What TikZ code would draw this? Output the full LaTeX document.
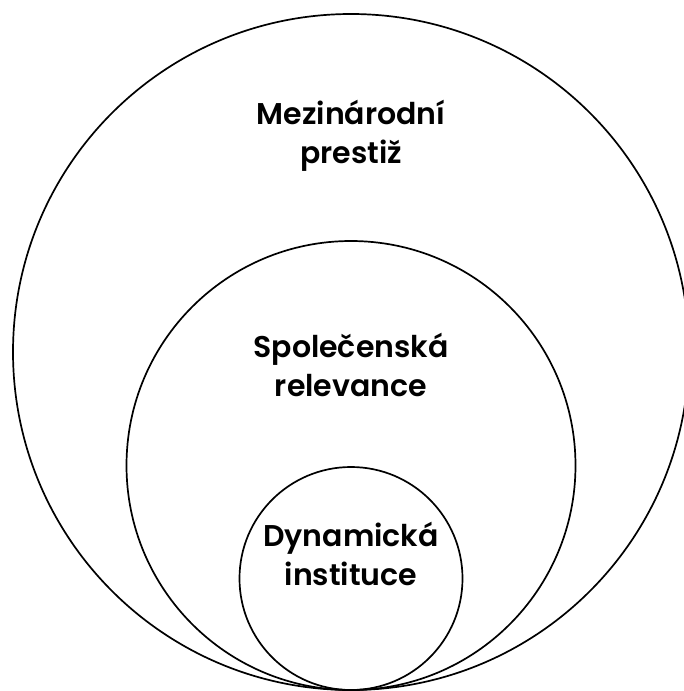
\documentclass[tikz,border=0pt]{standalone}
\usepackage{fontspec}
\setmainfont{Poppins}[BoldFont = * SemiBold]
\usepackage{tikz}

\tikzstyle{ring} = [draw, circle, line width = 1.7pt, inner sep = 0pt]
\tikzstyle{caption} = [align = center, font = \fontsize{30}{39}\selectfont\bfseries]

\begin{document}
\begin{tikzpicture}[x = 1pt, y = -1pt]
        \useasboundingbox (0, 0) rectangle (684, 691);

        % three rings touching at the bottom
        \node [ring, minimum size = 676pt] (outer) at (351, 352) {};
        \node [ring, minimum size = 449pt] (middle) at (351, 465.5) {};
        \node [ring, minimum size = 223pt] (inner) at (351, 578.5) {};

        \node [caption] (outerText) at (351, 136) {Mezinárodní\\prestiž};
        \node [caption] (middleText) at (351, 365) {Společenská\\relevance};
        \node [caption] (innerText) at (351, 554) {Dynamická\\instituce};
    \end{tikzpicture}
\end{document}
